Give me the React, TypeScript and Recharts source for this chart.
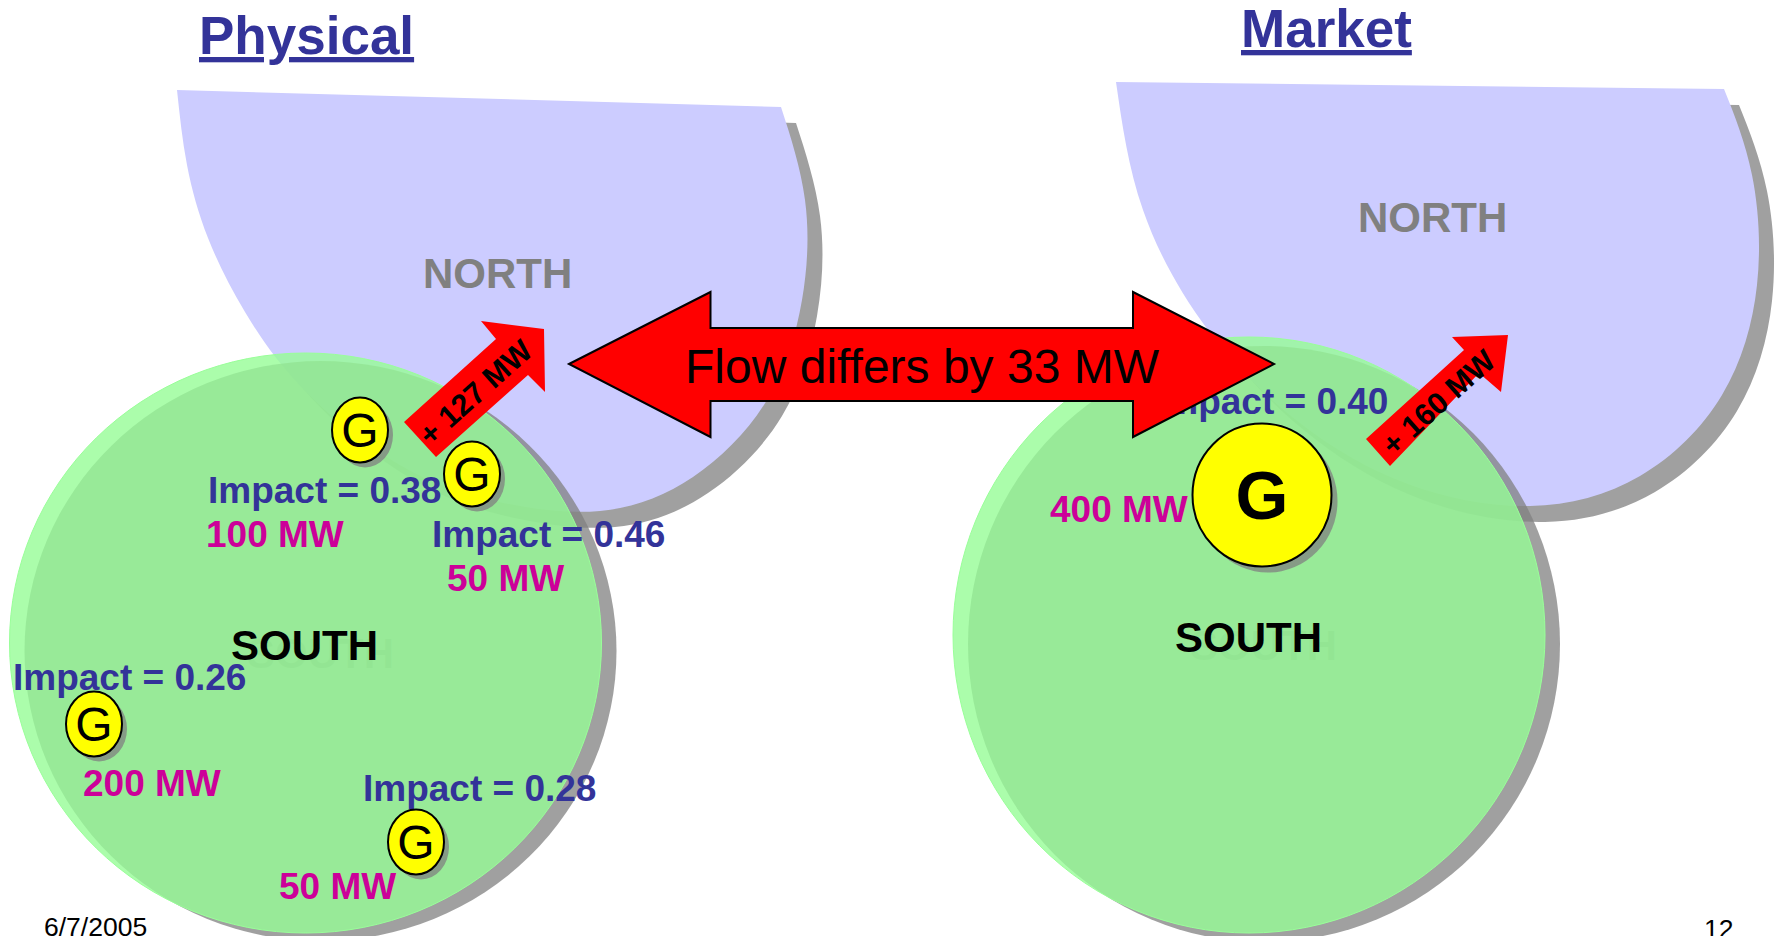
import { ScatterChart, Scatter, XAxis, YAxis } from 'recharts';

const font = '"Liberation Sans", Arial, sans-serif';
const BLUE = '#333399';
const MAGENTA = '#CC0099';
const RED = '#FF0000';

const northPhysical = [
  { x: 781, y: 107 }, { x: 805, y: 200 }, { x: 802, y: 300 }, { x: 767, y: 400 }, { x: 693, y: 477 },
  { x: 600, y: 511 }, { x: 495, y: 501 }, { x: 400, y: 465 }, { x: 305, y: 391 }, { x: 245, y: 312 },
  { x: 208, y: 238 }, { x: 187, y: 165 }, { x: 177, y: 90 },
];
const northMarket = [
  { x: 1724, y: 89 }, { x: 1752, y: 175 }, { x: 1757, y: 285 }, { x: 1722, y: 395 }, { x: 1640, y: 476 },
  { x: 1530, y: 506 }, { x: 1408, y: 484 }, { x: 1300, y: 423 }, { x: 1208, y: 330 }, { x: 1143, y: 210 },
  { x: 1116, y: 82 },
];
const southPhysical = [{ x: 305.5, y: 643 }];
const southMarket = [{ x: 1249, y: 635 }];

const flowArrow = [
  { x: 569, y: 364 }, { x: 710.5, y: 292 }, { x: 710.5, y: 328 }, { x: 1133, y: 328 }, { x: 1133, y: 292 },
  { x: 1274, y: 364 }, { x: 1133, y: 437 }, { x: 1133, y: 401 }, { x: 710.5, y: 401 }, { x: 710.5, y: 437 },
];
const arrowPhysical = [
  { x: 404, y: 422 }, { x: 496, y: 339 }, { x: 481, y: 321 }, { x: 544, y: 329 },
  { x: 545, y: 392 }, { x: 528, y: 375 }, { x: 436, y: 457 },
];
const arrowMarket = [
  { x: 1366, y: 439 }, { x: 1464, y: 350 }, { x: 1452, y: 337 }, { x: 1508, y: 335 },
  { x: 1501, y: 392 }, { x: 1479, y: 373 }, { x: 1390, y: 466 },
];

const smallGenerators = [{ x: 360, y: 430 }, { x: 472, y: 474 }, { x: 94, y: 724 }, { x: 416, y: 842 }];
const bigGenerator = [{ x: 1262, y: 495 }];

const titles = [{ x: 199, y: 54, text: 'Physical' }, { x: 1241, y: 47, text: 'Market' }];
const northLabels = [{ x: 423, y: 288, text: 'NORTH' }, { x: 1358, y: 232, text: 'NORTH' }];
const southLabels = [{ x: 231, y: 660, text: 'SOUTH' }, { x: 1175, y: 652, text: 'SOUTH' }];
const southGhosts = [{ x: 247, y: 668, text: 'SOUTH' }, { x: 1190, y: 660, text: 'SOUTH' }];
const impactLabels = [
  { x: 208, y: 503, text: 'Impact = 0.38' },
  { x: 432, y: 547, text: 'Impact = 0.46' },
  { x: 13, y: 690, text: 'Impact = 0.26' },
  { x: 363, y: 801, text: 'Impact = 0.28' },
  { x: 1155, y: 414, text: 'Impact = 0.40' },
];
const mwLabels = [
  { x: 206, y: 547, text: '100 MW' },
  { x: 447, y: 591, text: '50 MW' },
  { x: 83, y: 796, text: '200 MW' },
  { x: 279, y: 899, text: '50 MW' },
  { x: 1050, y: 522, text: '400 MW' },
];
const flowLabel = [{ x: 922, y: 383, text: 'Flow differs by 33 MW' }];
const deltaLabels = [{ x: 475, y: 392, text: '+ 127 MW' }, { x: 1438, y: 402, text: '+ 160 MW' }];
const footer = [{ x: 44, y: 936, text: '6/7/2005' }, { x: 1704, y: 938, text: '12' }];

const Nothing = () => <g />;

const textShape = (style: Record<string, unknown>) => (p: any) => (
  <text x={p.cx} y={p.cy} fontFamily={font} {...style}>
    {p.payload.text}
  </text>
);

const ellipseShape = (rx: number, ry: number, style: Record<string, unknown>, dx = 0, dy = 0) => (p: any) => (
  <ellipse cx={p.cx + dx} cy={p.cy + dy} rx={rx} ry={ry} {...style} />
);

const rotatedLabel = (p: any) => (
  <text
    x={p.cx}
    y={p.cy}
    fontFamily={font}
    fontWeight="bold"
    fontSize={30.5}
    fill="#000"
    textAnchor="middle"
    dominantBaseline="central"
    transform={`rotate(-42 ${p.cx} ${p.cy})`}
  >
    {p.payload.text}
  </text>
);

const generatorShape = (rx: number, ry: number, size: number, weight: string, off: number) => (p: any) => (
  <g>
    <ellipse cx={p.cx + off} cy={p.cy + off} rx={rx} ry={ry} fill="#808080" fillOpacity={0.75} />
    <ellipse cx={p.cx} cy={p.cy} rx={rx} ry={ry} fill="#FFFF00" stroke="#000" strokeWidth={2} />
    <text
      x={p.cx}
      y={p.cy}
      fontFamily={font}
      fontSize={size}
      fontWeight={weight}
      fill="#000"
      textAnchor="middle"
      dominantBaseline="central"
    >
      G
    </text>
  </g>
);

const SHADOW = { fill: '#808080', fillOpacity: 0.75 };
const GREEN = { fill: '#96FC96', fillOpacity: 0.8, stroke: '#99FF99', strokeWidth: 1 };
const offset = (pts: { x: number; y: number }[], dx: number, dy: number) =>
  pts.map(p => ({ x: p.x + dx, y: p.y + dy }));

export default function App() {
  return (
    <div style={{ position: 'absolute', left: 0, top: 0, background: '#fff' }}>
      <ScatterChart width={1778} height={936} margin={{ top: 0, right: 0, bottom: 0, left: 0 }}>
        <XAxis type="number" dataKey="x" domain={[0, 1778]} allowDataOverflow hide />
        <YAxis type="number" dataKey="y" domain={[0, 936]} allowDataOverflow reversed hide />

        {/* north regions with their drop shadows */}
        <Scatter data={offset(northPhysical, 15, 16)} line={{ ...SHADOW, stroke: 'none' }} lineJointType="natural" shape={Nothing} isAnimationActive={false} />
        <Scatter data={offset(northMarket, 15, 16)} line={{ ...SHADOW, stroke: 'none' }} lineJointType="natural" shape={Nothing} isAnimationActive={false} />
        <Scatter data={northPhysical} line={{ fill: '#CCCCFF', stroke: 'none' }} lineJointType="natural" shape={Nothing} isAnimationActive={false} />
        <Scatter data={northMarket} line={{ fill: '#CCCCFF', stroke: 'none' }} lineJointType="natural" shape={Nothing} isAnimationActive={false} />
        <Scatter data={northLabels} shape={textShape({ fontSize: 42, fontWeight: 'bold', fill: '#808080' })} isAnimationActive={false} />

        {/* south regions: translucent green over a shadow */}
        <Scatter data={southPhysical} shape={ellipseShape(296, 290, SHADOW, 15, 8)} isAnimationActive={false} />
        <Scatter data={southMarket} shape={ellipseShape(296, 298, SHADOW, 15, 9)} isAnimationActive={false} />
        <Scatter data={southGhosts} shape={textShape({ fontSize: 42, fontWeight: 'bold', ...SHADOW })} isAnimationActive={false} />
        <Scatter data={southPhysical} shape={ellipseShape(296, 290, GREEN)} isAnimationActive={false} />
        <Scatter data={southMarket} shape={ellipseShape(296, 298, GREEN)} isAnimationActive={false} />
        <Scatter data={southLabels} shape={textShape({ fontSize: 42, fontWeight: 'bold', fill: '#000' })} isAnimationActive={false} />

        <Scatter data={titles} shape={textShape({ fontSize: 53, fontWeight: 'bold', fill: BLUE, textDecoration: 'underline' })} isAnimationActive={false} />

        <Scatter data={impactLabels} shape={textShape({ fontSize: 37, fontWeight: 'bold', fill: BLUE })} isAnimationActive={false} />
        <Scatter data={mwLabels} shape={textShape({ fontSize: 37, fontWeight: 'bold', fill: MAGENTA })} isAnimationActive={false} />

        {/* small flow arrows */}
        <Scatter data={arrowPhysical} line={{ fill: RED, stroke: 'none' }} lineJointType="linearClosed" shape={Nothing} isAnimationActive={false} />
        <Scatter data={arrowMarket} line={{ fill: RED, stroke: 'none' }} lineJointType="linearClosed" shape={Nothing} isAnimationActive={false} />
        <Scatter data={deltaLabels} shape={rotatedLabel} isAnimationActive={false} />

        <Scatter data={smallGenerators} shape={generatorShape(28, 32.5, 48, 'normal', 5)} isAnimationActive={false} />
        <Scatter data={bigGenerator} shape={generatorShape(69.5, 71.5, 68, 'bold', 6)} isAnimationActive={false} />

        {/* double arrow between the two panels */}
        <Scatter data={flowArrow} line={{ fill: RED, stroke: '#000', strokeWidth: 2 }} lineJointType="linearClosed" shape={Nothing} isAnimationActive={false} />
        <Scatter data={flowLabel} shape={textShape({ fontSize: 48, fill: '#000', textAnchor: 'middle' })} isAnimationActive={false} />

        <Scatter data={footer} shape={textShape({ fontSize: 26.5, fill: '#000' })} isAnimationActive={false} />
      </ScatterChart>
    </div>
  );
}
